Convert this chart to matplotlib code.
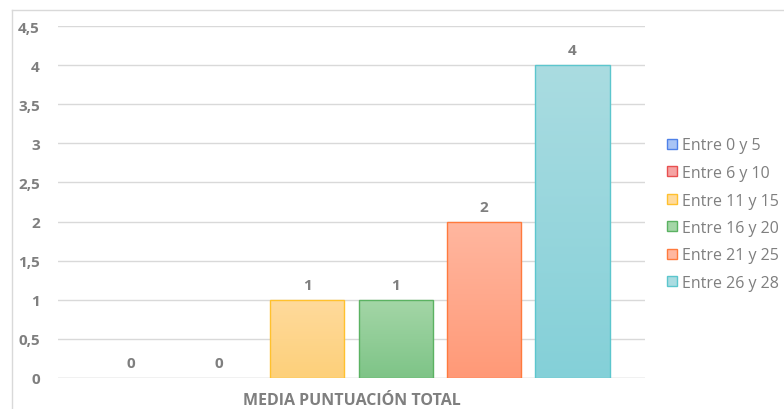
import matplotlib
matplotlib.use("Agg")
import matplotlib.pyplot as plt
import numpy as np
from matplotlib.colors import LinearSegmentedColormap
from matplotlib.patches import Patch
from matplotlib.lines import Line2D

categories = ["Entre 0 y 5", "Entre 6 y 10", "Entre 11 y 15", "Entre 16 y 20", "Entre 21 y 25", "Entre 26 y 28"]
values = [0, 0, 1, 1, 2, 4]
xlabel = "MEDIA PUNTUACIÓN TOTAL"
yticks = [0, 0.5, 1, 1.5, 2, 2.5, 3, 3.5, 4, 4.5]
ytick_labels = ["0", "0,5", "1", "1,5", "2", "2,5", "3", "3,5", "4", "4,5"]

top_colors = ["#A9C4F5", "#F5A3A3", "#FFDA9C", "#A4D6A7", "#FFB7A0", "#AADCE1"]
bot_colors = ["#7FA6EE", "#EE7F7F", "#FDD07A", "#7EC487", "#FF9977", "#84D0D8"]
edge_colors = ["#4F81E8", "#E85050", "#FFC12E", "#5BB262", "#FF7A3D", "#5CC6CD"]

plt.rcParams['font.family'] = ['Open Sans', 'DejaVu Sans']
gray = "#7F7F7F"

fig = plt.figure(figsize=(7.84, 4.10), dpi=100)
W, H = 784, 410
ax = fig.add_axes([58 / W, 1 - 379 / H, (645 - 58) / W, (379 - 27) / H])

x = np.arange(len(categories))
width = 0.838
lws = [1.0 if v > 0 else 0 for v in values]
bars = ax.bar(x, values, width=width, color="none", edgecolor=edge_colors, linewidth=lws, zorder=3)
for i, b in enumerate(bars):
    v = values[i]
    if v > 0:
        cmap = LinearSegmentedColormap.from_list("g%d" % i, [bot_colors[i], top_colors[i]])
        grad = np.linspace(0, 1, 256).reshape(-1, 1)
        im = ax.imshow(grad, cmap=cmap, origin="lower", aspect="auto",
                       extent=(x[i] - width / 2, x[i] + width / 2, 0, v), zorder=2)
        im.set_clip_path(b)
    ax.text(x[i], v + 0.19, str(v), ha="center", va="center", fontsize=11,
            fontweight="bold", color=gray)

ax.set_xlim(-0.82, 5.82)
ax.set_ylim(0, 4.5)
ax.set_yticks(yticks)
ax.set_yticklabels(ytick_labels, fontsize=11, fontweight="bold", color=gray)
ax.set_xticks([])
ax.tick_params(axis="y", length=0, pad=13)
ax.yaxis.grid(True, color="#D9D9D9", linewidth=1.0, zorder=0)
ax.set_axisbelow(True)
for s in ax.spines.values():
    s.set_visible(False)
ax.axhline(0, color="#D9D9D9", linewidth=1.0, zorder=1)
ax.set_xlabel(xlabel, fontsize=11.5, fontweight="bold", color=gray, labelpad=10)

handles = [Patch(facecolor=top_colors[i], edgecolor=edge_colors[i], linewidth=1.0) for i in range(len(categories))]
leg = fig.legend(handles, categories, loc="upper left", bbox_to_anchor=(667 / W, 1 - 138.5 / H),
                 frameon=False, fontsize=11.5, handlelength=0.6, handleheight=0.6,
                 handletextpad=0.35, labelspacing=0.72, borderaxespad=0, borderpad=0)
for t in leg.get_texts():
    t.set_color(gray)

# outer frame
fig.add_artist(Line2D([12 / W, 12 / W], [0, 1 - 11 / H], color="#D9D9D9", linewidth=1.0, transform=fig.transFigure))
fig.add_artist(Line2D([12 / W, 1], [1 - 11 / H, 1 - 11 / H], color="#D9D9D9", linewidth=1.0, transform=fig.transFigure))

fig.savefig("out.png", dpi=100)
